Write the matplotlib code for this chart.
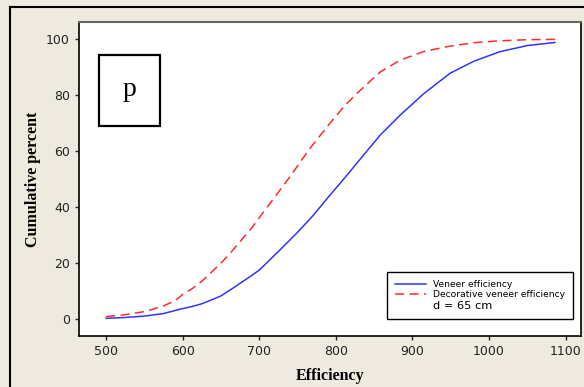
import matplotlib.pyplot as plt
from matplotlib.lines import Line2D
from matplotlib.patches import Rectangle

blue_x = [500, 525, 550, 575, 597, 612, 625, 637, 650, 662, 675, 687, 700, 727, 750,
          771, 790, 810, 830, 858, 884, 915, 949, 980, 1014, 1050, 1086]
blue_y = [0.3, 0.6, 1.1, 2.0, 3.6, 4.5, 5.5, 6.8, 8.3, 10.4, 12.8, 15.0, 17.5, 24.7, 31,
          37.2, 43.5, 49.9, 56.5, 65.7, 72.8, 80.5, 87.7, 92, 95.4, 97.6, 98.7]

red_x = [500, 525, 550, 575, 590, 601, 613, 625, 637, 650, 662, 690, 714, 740, 765,
         792, 812, 832, 858, 884, 915, 949, 980, 1014, 1050, 1086]
red_y = [0.9, 1.6, 2.7, 4.7, 6.6, 9.0, 11.0, 13.5, 16.6, 20.0, 23.5, 32.5, 41.3, 50.8, 60.5,
         69.8, 76.3, 81.7, 88.2, 92.4, 95.5, 97.4, 98.6, 99.3, 99.7, 99.8]

x_ticks = [500, 600, 700, 800, 900, 1000, 1100]
y_ticks = [0, 20, 40, 60, 80, 100]
labels = ['Veneer efficiency', 'Decorative veneer efficiency', 'd = 65 cm']

bg = '#EEEAE0'
fig = plt.figure(figsize=(5.84, 3.87), dpi=100, facecolor=bg)
ax = fig.add_axes([79 / 584, 1 - 336 / 387, 502 / 584, 314 / 387])

ax.plot(blue_x, blue_y, color='#3333FF', lw=1.1)
ax.plot(red_x, red_y, color='#FF2A2A', lw=1.1, ls=(0, (6, 3.5)))

ax.set_xlim(464.7, 1120)
ax.set_ylim(-6, 106)
ax.set_xticks(x_ticks)
ax.set_yticks(y_ticks)
ax.tick_params(direction='out', length=3, width=1, labelsize=9,
               colors='#222222', top=False, right=False)
for s in ['left', 'bottom', 'right']:
    ax.spines[s].set_color('black')
    ax.spines[s].set_linewidth(1.2)
ax.spines['top'].set_color('#666666')
ax.spines['top'].set_linewidth(1.5)

ax.set_xlabel('Efficiency', family='Liberation Serif', weight='bold', fontsize=11.5, labelpad=7)
ax.set_ylabel('Cumulative percent', family='Liberation Serif', weight='bold', fontsize=11.5, labelpad=4)

# panel letter box
ax.add_patch(Rectangle((20 / 502, 210 / 314), 61 / 502, 71 / 314, transform=ax.transAxes,
                       fc='white', ec='black', lw=1.6, zorder=3))
ax.text(50.5 / 502, 246 / 314, 'p', transform=ax.transAxes, family='Liberation Serif',
        fontsize=20, ha='center', va='center', zorder=4)

handles = [Line2D([], [], color='#3333FF', lw=1.1),
           Line2D([], [], color='#FF2A2A', lw=1.1, ls=(0, (6, 3.5))),
           Line2D([], [], color='none')]
leg = ax.legend(handles, labels, loc='lower right', bbox_to_anchor=(0.984, 0.054),
                borderaxespad=0, fontsize=6.6, fancybox=False, framealpha=1,
                edgecolor='black', handlelength=3.4, handletextpad=0.7,
                labelspacing=0.15, borderpad=0.9)
leg.get_frame().set_linewidth(1.0)
leg.get_texts()[2].set_fontsize(8.2)

# outer frame
fig.patches.append(Rectangle((10 / 584, -0.1), 1.2, 1 - 7 / 387 + 0.1,
                             transform=fig.transFigure, fill=False,
                             ec='black', lw=1.5))

fig.savefig('out.png', dpi=100, facecolor=bg)
